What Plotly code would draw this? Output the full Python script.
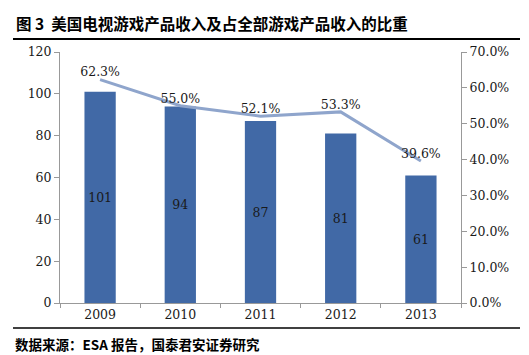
import plotly.graph_objects as go

years = ["2009", "2010", "2011", "2012", "2013"]
revenue = [101, 94, 87, 81, 61]
share = [0.623, 0.550, 0.521, 0.533, 0.396]
share_labels = ["62.3%", "55.0%", "52.1%", "53.3%", "39.6%"]

W, H = 529, 355
L, R, T, B = 52, 76, 44, 60
pw = W - L - R
ph = H - T - B

def px(x):
    return (x - L) / pw

def py(y):
    return (H - B - y) / ph

serif = "DejaVu Serif, Liberation Serif, serif"
cjk = "Noto Sans CJK SC"

fig = go.Figure()
fig.add_trace(go.Bar(
    x=years, y=revenue, marker_color="#4169A6", marker_line_width=0,
    text=[str(v) for v in revenue], textposition="inside",
    insidetextanchor="middle", textfont=dict(family=serif, size=12.5, color="#1a1a1a"),
    cliponaxis=False, showlegend=False, width=0.39,
))
fig.add_trace(go.Scatter(
    x=years, y=share, yaxis="y2", mode="lines+text",
    line=dict(color="#8FA5CC", width=3),
    text=share_labels, textposition="top center",
    textfont=dict(family=serif, size=12.5, color="#1a1a1a"),
    cliponaxis=False, showlegend=False,
))

fig.update_layout(
    width=W, height=H, margin=dict(l=L, r=R, t=T, b=B),
    paper_bgcolor="white", plot_bgcolor="white",
    font=dict(family=serif, size=12.5, color="#1a1a1a"),
    xaxis=dict(showline=True, linecolor="#999999", linewidth=1,
               ticks="outside", tickcolor="#999999", ticklen=4,
               tickson="boundaries", tickfont=dict(family=serif, size=12.5)),
    yaxis=dict(range=[0, 120], dtick=20, showgrid=False, zeroline=False,
               showline=True, linecolor="#999999", linewidth=1,
               ticks="outside", tickcolor="#999999", ticklen=5,
               tickfont=dict(family=serif, size=12.5)),
    yaxis2=dict(range=[0, 0.7], dtick=0.1, tickformat=".1%", overlaying="y",
                side="right", showgrid=False, zeroline=False,
                showline=True, linecolor="#999999", linewidth=1,
                ticks="outside", tickcolor="#999999", ticklen=5,
                tickfont=dict(family=serif, size=12.5)),
    shapes=[
        dict(type="line", xref="paper", yref="paper", x0=px(5), x1=px(512),
             y0=py(31), y1=py(31), line=dict(color="black", width=2)),
        dict(type="line", xref="paper", yref="paper", x0=px(5), x1=px(512),
             y0=py(320), y1=py(320), line=dict(color="black", width=1.5)),
    ],
    annotations=[
        dict(text="<b>图 3  美国电视游戏产品收入及占全部游戏产品收入的比重</b>",
             xref="paper", yref="paper", x=px(6), y=py(15),
             xanchor="left", yanchor="middle", showarrow=False,
             font=dict(family=cjk, size=15.5, color="black")),
        dict(text="<b>数据来源：ESA 报告，国泰君安证券研究</b>",
             xref="paper", yref="paper", x=px(5), y=py(336),
             xanchor="left", yanchor="middle", showarrow=False,
             font=dict(family=cjk, size=13.5, color="black")),
    ],
)

fig.write_html("out.html")
